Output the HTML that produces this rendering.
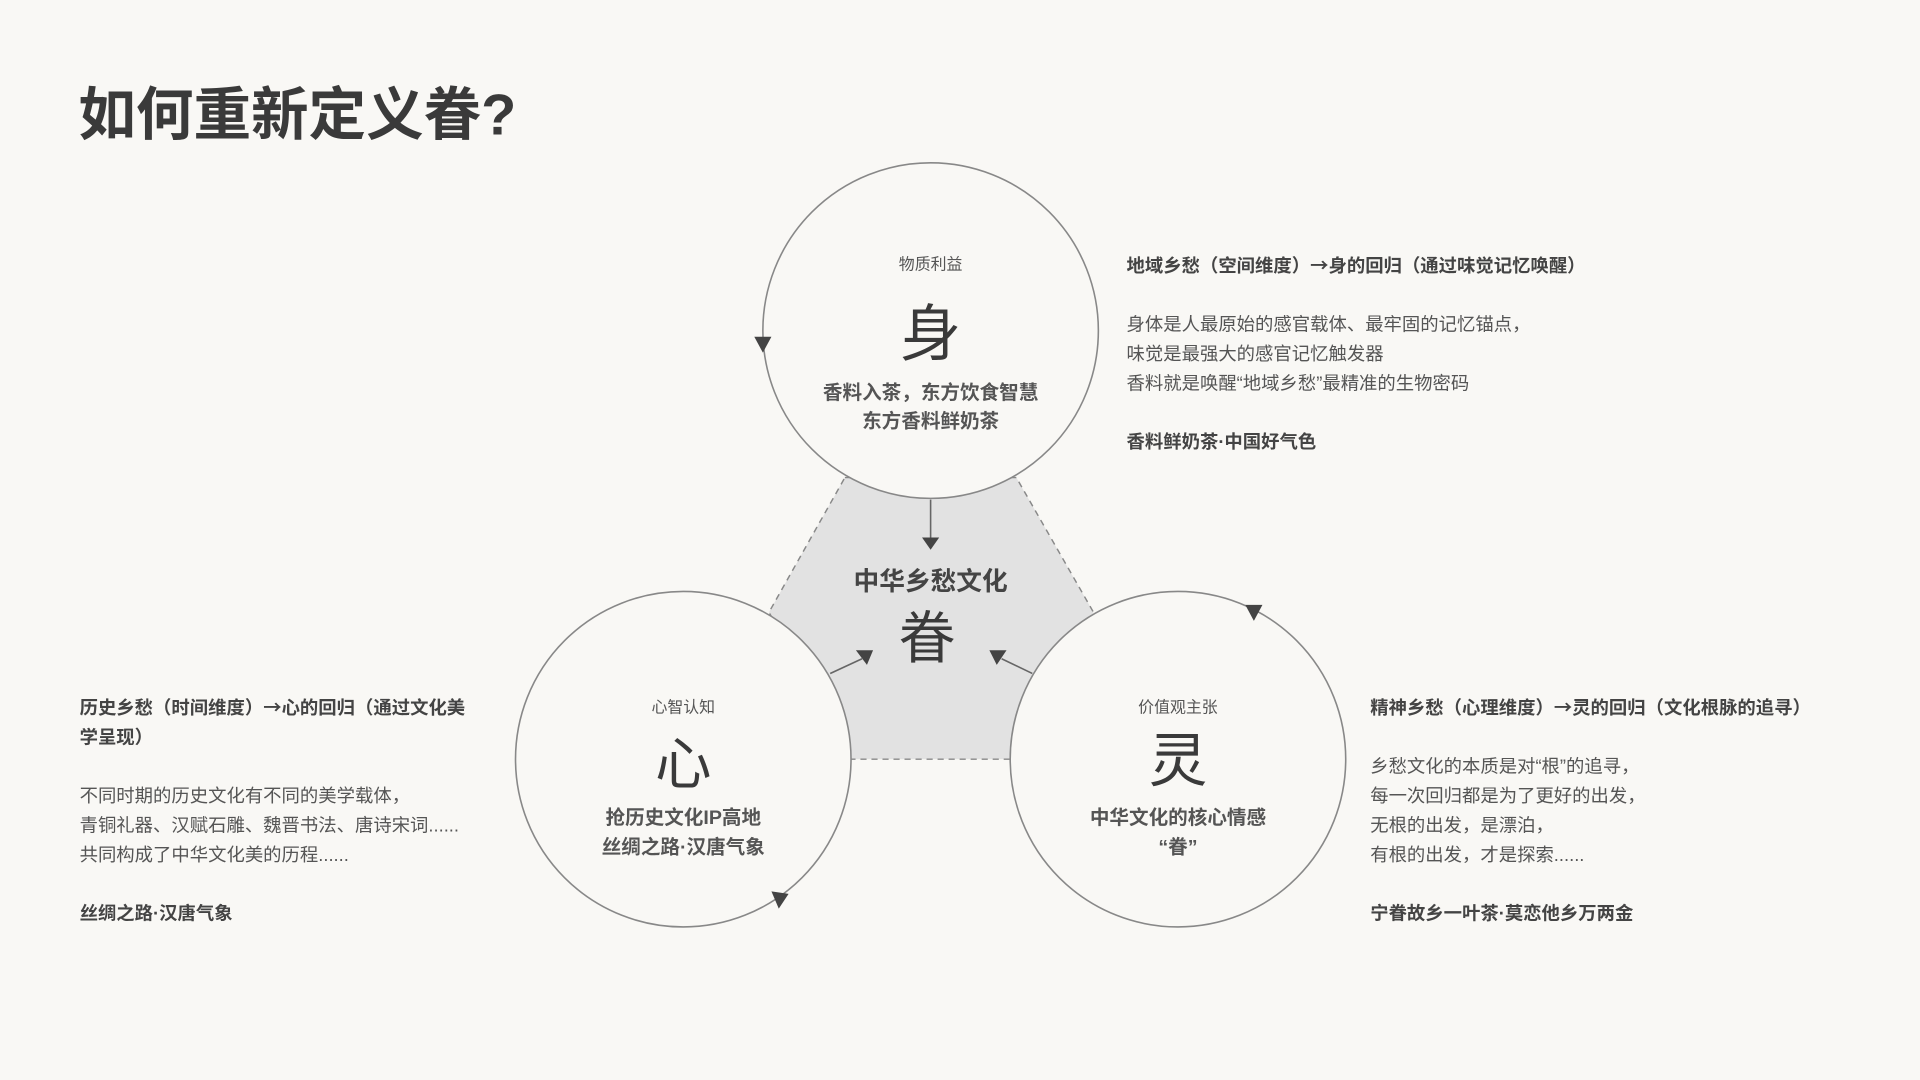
<!DOCTYPE html>
<html><head><meta charset="utf-8"><style>
html,body{margin:0;padding:0;background:#f9f8f5;}
svg{display:block;}
text{font-family:"Liberation Sans","Noto Sans CJK SC",sans-serif;fill:#555;}
.b{font-weight:bold;fill:#444;}
.c{text-anchor:middle;}
.a{font-family:"Noto Sans CJK SC",sans-serif;}
</style></head><body>
<svg width="1920" height="1080" viewBox="0 0 1568 882" xmlns="http://www.w3.org/2000/svg">
<rect width="1568" height="882" fill="#f9f8f5"/>
<text x="64" y="110" font-size="47" class="b" style="fill:#3a3a3a">如何重新定义眷?</text>

<polygon points="690,390 830,390 893,500 825,620 695,620 628,500" fill="#e2e2e2" stroke="#888" stroke-width="1.2" stroke-dasharray="5,4"/>

<circle cx="760" cy="270" r="137" fill="#f9f8f5" stroke="#888" stroke-width="1.3"/>
<circle cx="558" cy="620" r="137" fill="#f9f8f5" stroke="#888" stroke-width="1.3"/>
<circle cx="962" cy="620" r="137" fill="#f9f8f5" stroke="#888" stroke-width="1.3"/>

<polygon points="616,275 630,275 623,288" fill="#444"/>
<line x1="760" y1="408" x2="760" y2="440" stroke="#666" stroke-width="1.3"/>
<polygon points="753,439 767,439 760,449" fill="#444"/>
<line x1="678" y1="550" x2="704" y2="538" stroke="#666" stroke-width="1.3"/>
<polygon points="699,531 713,531 708,543" fill="#444"/>
<line x1="843" y1="550" x2="818" y2="538" stroke="#666" stroke-width="1.3"/>
<polygon points="808,531 822,531 814,543" fill="#444"/>
<polygon points="1017,494 1031,494 1024,507" fill="#444"/>
<polygon points="630,728 644,730 636,742" fill="#444"/>

<text x="760" y="220" font-size="13" class="c">物质利益</text>
<text x="760" y="290" font-size="50" class="c" style="fill:#3a3a3a">身</text>
<text x="760" y="326" font-size="16" class="c b" style="fill:#555">香料入茶，东方饮食智慧</text>
<text x="760" y="349" font-size="16" class="c b" style="fill:#555">东方香料鲜奶茶</text>

<text x="760" y="482" font-size="21" class="c b">中华乡愁文化</text>
<text x="757" y="537" font-size="46" class="c" style="fill:#3a3a3a">眷</text>

<text x="558" y="582" font-size="13" class="c">心智认知</text>
<text x="558" y="640" font-size="46" class="c" style="fill:#3a3a3a">心</text>
<text x="558" y="673" font-size="16" class="c b" style="fill:#555">抢历史文化IP高地</text>
<text x="558" y="697" font-size="16" class="c b" style="fill:#555">丝绸之路·汉唐气象</text>

<text x="962" y="582" font-size="13" class="c">价值观主张</text>
<text x="962" y="638" font-size="48" class="c" style="fill:#3a3a3a">灵</text>
<text x="962" y="673" font-size="16" class="c b" style="fill:#555">中华文化的核心情感</text>
<text x="962" y="697" font-size="16" class="c b" style="fill:#555">“眷”</text>

<text x="920" y="222" font-size="15" class="b">地域乡愁（空间维度）<tspan class="a">→</tspan>身的回归（通过味觉记忆唤醒）</text>
<text x="920" y="270" font-size="15">身体是人最原始的感官载体、最牢固的记忆锚点，</text>
<text x="920" y="294" font-size="15">味觉是最强大的感官记忆触发器</text>
<text x="920" y="318" font-size="15">香料就是唤醒“地域乡愁”最精准的生物密码</text>
<text x="920" y="366" font-size="15" class="b">香料鲜奶茶·中国好气色</text>

<text x="65" y="583" font-size="15" class="b">历史乡愁（时间维度）<tspan class="a">→</tspan>心的回归（通过文化美</text>
<text x="65" y="607" font-size="15" class="b">学呈现）</text>
<text x="65" y="655" font-size="15">不同时期的历史文化有不同的美学载体，</text>
<text x="65" y="679" font-size="15">青铜礼器、汉赋石雕、魏晋书法、唐诗宋词......</text>
<text x="65" y="703" font-size="15">共同构成了中华文化美的历程......</text>
<text x="65" y="751" font-size="15" class="b">丝绸之路·汉唐气象</text>

<text x="1119" y="583" font-size="15" class="b">精神乡愁（心理维度）<tspan class="a">→</tspan>灵的回归（文化根脉的追寻）</text>
<text x="1119" y="631" font-size="15">乡愁文化的本质是对“根”的追寻，</text>
<text x="1119" y="655" font-size="15">每一次回归都是为了更好的出发，</text>
<text x="1119" y="679" font-size="15">无根的出发，是漂泊，</text>
<text x="1119" y="703" font-size="15">有根的出发，才是探索......</text>
<text x="1119" y="751" font-size="15" class="b">宁眷故乡一叶茶·莫恋他乡万两金</text>
</svg>
</body></html>
